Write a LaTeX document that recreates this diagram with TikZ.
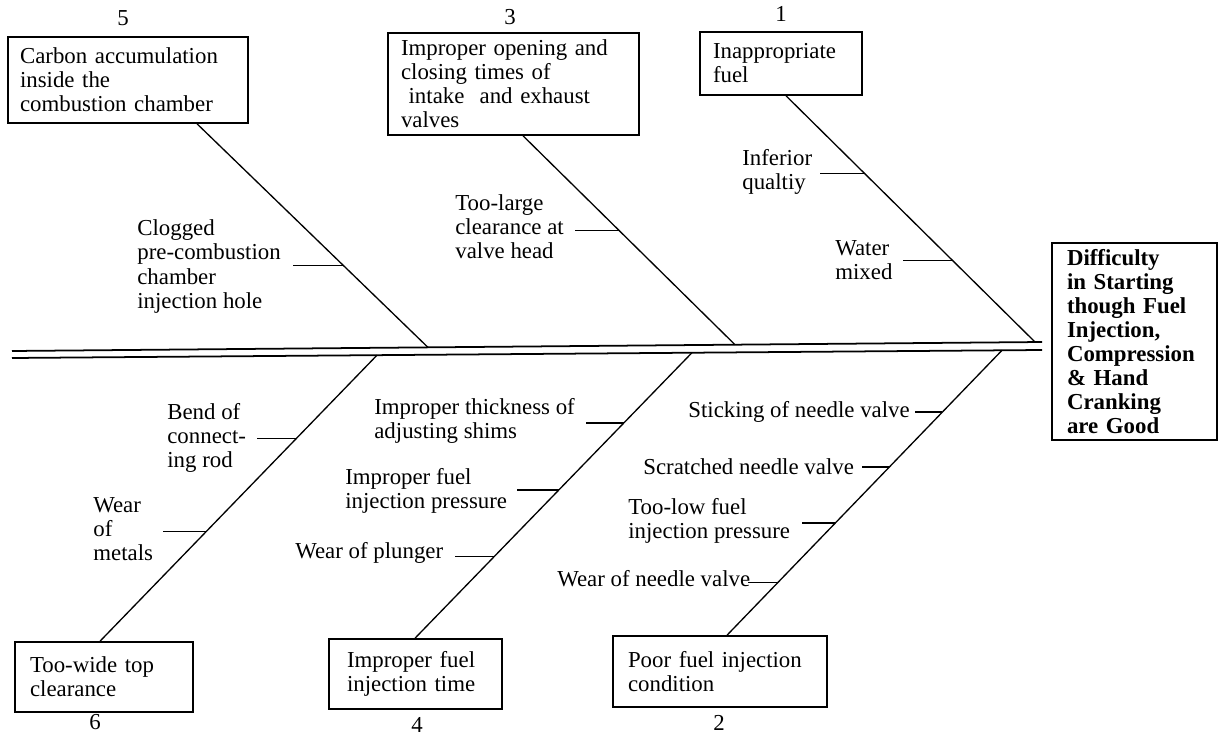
\documentclass[tikz,border=0pt]{standalone}
\usepackage{fontspec}
\setmainfont{Liberation Serif}
\usetikzlibrary{calc}
\begin{document}
\begin{tikzpicture}[x=0.02cm,y=-0.02cm,
  txt/.style={font=\fontsize{13}{13.7}\selectfont},
  cbox/.style={draw,line width=0.9pt,txt,align=left,inner sep=0pt},
  lbl/.style={txt,align=left,anchor=west,inner sep=0pt},
  num/.style={txt,inner sep=0pt},
  bone/.style={line width=0.75pt},
  tickline/.style={line width=0.75pt},
  spine/.style={line width=1pt}]
\useasboundingbox (0,0) rectangle (1218,740);

% boxes
\node[cbox,minimum width=4.8cm,minimum height=1.72cm,text width=4.32cm] (b5) at (128,80)
  {Carbon accumulation\\inside the\\combustion chamber};
\node[cbox,minimum width=5.02cm,minimum height=2.04cm,text width=4.5cm] (b3) at (513.5,84)
  {Improper opening and\\closing times of\\\ intake\ \ and exhaust\\valves};
\node[cbox,minimum width=3.24cm,minimum height=1.26cm,text width=2.72cm] (b1) at (781,63.5)
  {Inappropriate\\fuel};
\node[cbox,font=\fontsize{13}{13.7}\selectfont\bfseries,minimum width=3.3cm,minimum height=3.94cm,text width=2.7cm] (head) at (1134.5,341.5)
  {Difficulty\\in Starting\\though Fuel\\Injection,\\Compression\\\& Hand\\Cranking\\are Good};
\node[cbox,minimum width=3.56cm,minimum height=1.4cm,text width=2.96cm] (b6) at (104,677)
  {Too-wide top\\clearance};
\node[cbox,minimum width=3.46cm,minimum height=1.4cm,text width=2.74cm] (b4) at (415.5,674)
  {Improper fuel\\injection time};
\node[cbox,minimum width=4.28cm,minimum height=1.42cm,text width=3.68cm] (b2) at (720,671.5)
  {Poor fuel injection\\condition};

% numbers
\node[num] (n5) at (123,18) {5};
\node[num] (n3) at (510,17) {3};
\node[num] (n1) at (781,14) {1};
\node[num] (n6) at (95,722) {6};
\node[num] (n4) at (417,725) {4};
\node[num] (n2) at (719,723) {2};

% spine
\coordinate (hL1) at (12,351);
\coordinate (hR1) at (1042,342);
\coordinate (hL2) at (12,358);
\coordinate (hR2) at (1042,350);
\draw[spine] (hL1) -- (hR1);
\draw[spine] (hL2) -- (hR2);

% attachment points
\coordinate (s5) at (428,347.4);
\coordinate (s3) at (735,344.7);
\coordinate (s1) at (1035,342);
\coordinate (s6) at (377,355.2);
\coordinate (s4) at (692,352.7);
\coordinate (s2) at (1002,350.3);
\coordinate (x5) at (197,0);
\coordinate (x3) at (523,0);
\coordinate (x1) at (786,0);
\coordinate (x6) at (100,0);
\coordinate (x4) at (415,0);
\coordinate (x2) at (727,0);

% bones
\draw[bone] (b5.south -| x5) -- (s5) coordinate[pos=0.633] (k5);
\draw[bone] (b3.south -| x3) -- (s3) coordinate[pos=0.453] (k3);
\draw[bone] (b1.south -| x1) -- (s1) coordinate[pos=0.316] (k1a) coordinate[pos=0.668] (k1b);
\draw[bone] (s6) -- (b6.north -| x6) coordinate[pos=0.292] (k6a) coordinate[pos=0.616] (k6b);
\draw[bone] (s4) -- (b4.north -| x4) coordinate[pos=0.2464] (k4a) coordinate[pos=0.481] (k4b) coordinate[pos=0.7126] (k4c);
\draw[bone] (s2) -- (b2.north -| x2) coordinate[pos=0.2167] (k2a) coordinate[pos=0.41] (k2b) coordinate[pos=0.6066] (k2c) coordinate[pos=0.8138] (k2d);

% ticks
\draw[tickline] (k5) -- ++(-50,0);
\draw[tickline] (k3) -- ++(-44,0);
\draw[tickline] (k1a) -- ++(-45,0);
\draw[tickline] (k1b) -- ++(-49,0);
\draw[tickline] (k6a) -- ++(-39,0);
\draw[tickline] (k6b) -- ++(-43,0);
\draw[tickline] (k4a) -- ++(-38,0);
\draw[tickline] (k4b) -- ++(-42,0);
\draw[tickline] (k4c) -- ++(-40,0);
\draw[tickline] (k2a) -- ++(-27,0);
\draw[tickline] (k2b) -- ++(-27,0);
\draw[tickline] (k2c) -- ++(-33,0);
\draw[tickline] (k2d) -- ++(-30,0);

% labels
\node[lbl] (l5) at (137,266.5) {Clogged\\pre-combustion\\chamber\\injection hole};
\node[lbl] (l3) at (455,226.5) {Too-large\\clearance at\\valve head};
\node[lbl] (l1a) at (742,171.5) {Inferior\\qualtiy};
\node[lbl] (l1b) at (835,260.5) {Water\\mixed};
\node[lbl] (l6a) at (167,438) {Bend of\\connect-\\ing rod};
\node[lbl] (l6b) at (93,529) {Wear\\of\\metals};
\node[lbl] (l4a) at (374,420.5) {Improper thickness of\\adjusting shims};
\node[lbl] (l4b) at (345,491) {Improper fuel\\injection pressure};
\node[lbl] (l4c) at (295,553) {Wear of plunger};
\node[lbl] (l2a) at (688,412) {Sticking of needle valve};
\node[lbl] (l2b) at (643,467) {Scratched needle valve};
\node[lbl] (l2c) at (628,520.5) {Too-low fuel\\injection pressure};
\node[lbl] (l2d) at (557,579) {Wear of needle valve};
\end{tikzpicture}
\end{document}
